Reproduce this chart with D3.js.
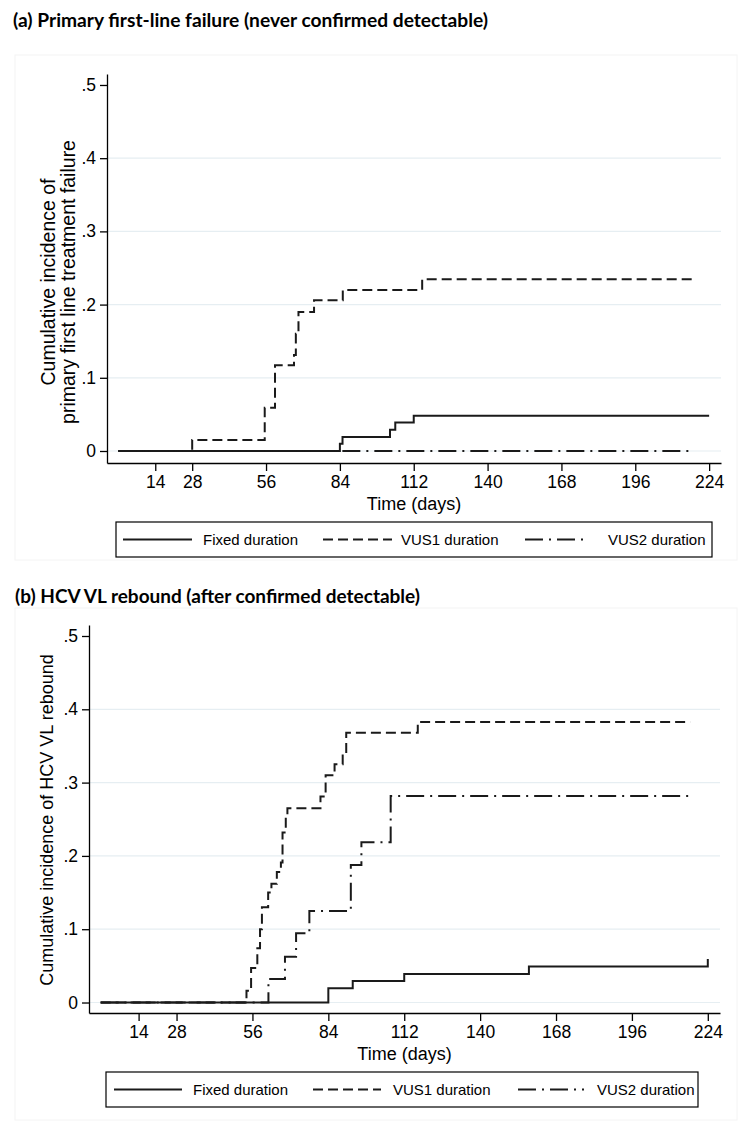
<!DOCTYPE html>
<html>
<head>
<meta charset="utf-8">
<script src="https://cdn.jsdelivr.net/npm/d3@7"></script>
<style>
  html, body { margin: 0; padding: 0; background: #ffffff; }
  svg { display: block; }
</style>
</head>
<body>
<svg id="chart" width="742" height="1136"></svg>
<script>
// ---------- DATA ----------
const xTicks = [14, 28, 56, 84, 112, 140, 168, 196, 224];
const yTicks = [0, 0.1, 0.2, 0.3, 0.4, 0.5];
const yTickLabels = ["0", ".1", ".2", ".3", ".4", ".5"];
const gridTicks = [0, 0.1, 0.2, 0.3, 0.4];
const seriesNames = ["Fixed duration", "VUS1 duration", "VUS2 duration"];

const titleA = "(a) Primary first-line failure (never confirmed detectable)";
const yLabelA = ["Cumulative incidence of", "primary first line treatment failure"];
const titleB = "(b) HCV VL rebound (after confirmed detectable)";
const yLabelB = ["Cumulative incidence of HCV VL rebound"];
const xLabel = "Time (days)";

// Panel (a) step functions (time in days, cumulative incidence)
const fixedA_time  = [0, 84, 85, 103, 105, 112, 224];
const fixedA_value = [0, 0.010, 0.019, 0.029, 0.039, 0.048, 0.048];
const vus1A_time   = [0, 28, 55.5, 59.4, 66.6, 67.3, 68.3, 74.2, 85.1, 115.2, 217.5];
const vus1A_value  = [0, 0.015, 0.059, 0.117, 0.131, 0.160, 0.190, 0.206, 0.220, 0.2345, 0.2345];
const vus2A_time   = [0, 217.5];
const vus2A_value  = [0, 0];

// Panel (b) step functions
const fixedB_time  = [0, 84, 93, 112, 158, 224];
const fixedB_value = [0, 0.0195, 0.0295, 0.039, 0.049, 0.0595];
const vus1B_time   = [0, 53.8, 55.5, 57.8, 58.8, 59.5, 61.8, 63.0, 65.0, 66.5, 67.1, 68.3, 68.9, 81.1, 83.0, 86.3, 89.3, 90.6, 117.0, 217.5];
const vus1B_value  = [0, 0.016, 0.047, 0.074, 0.100, 0.130, 0.150, 0.162, 0.178, 0.191, 0.232, 0.2525, 0.265, 0.281, 0.310, 0.325, 0.340, 0.368, 0.3827, 0.3827];
const vus2B_time   = [0, 61.9, 68.0, 72.1, 77.0, 92.3, 96.2, 107.0, 217.5];
const vus2B_value  = [0, 0.032, 0.0625, 0.0944, 0.125, 0.1876, 0.2185, 0.2817, 0.2817];

// ---------- STYLE ----------
const dashes = [null, "10,5", "18,6,2,6"];
const lineColor = "#1a1a1a";
const textFont = "'Liberation Sans', Arial, Helvetica, sans-serif";
const titleFont = "Lato, 'Open Sans', sans-serif";

const svg = d3.select("#chart");

function zip(t, v) { return t.map((d, i) => ({ t: d, v: v[i] })); }

function drawPanel(cfg) {
  const g = svg.append("g");

  // faint graph-region border
  g.append("rect")
    .attr("x", cfg.region[0]).attr("y", cfg.region[1])
    .attr("width", cfg.region[2]).attr("height", cfg.region[3])
    .attr("fill", "none").attr("stroke", "#f4f4f4").attr("stroke-width", 1);

  // title
  g.append("text")
    .attr("x", cfg.titleX).attr("y", cfg.titleY)
    .attr("font-family", titleFont).attr("font-weight", "bold")
    .attr("font-size", 18.5).attr("fill", "#000")
    .attr("textLength", cfg.titleLen).attr("lengthAdjust", "spacingAndGlyphs")
    .text(cfg.title);

  const x = d3.scaleLinear().domain([-4.3, 228.5]).range([cfg.left, cfg.right]);
  const y = d3.scaleLinear().domain([cfg.yMin, 0.515]).range([cfg.bottom, cfg.top]);

  // gridlines
  g.append("g").selectAll("line").data(gridTicks).join("line")
    .attr("x1", cfg.left).attr("x2", cfg.right)
    .attr("y1", d => y(d)).attr("y2", d => y(d))
    .attr("stroke", "#e6eef2").attr("stroke-width", 1.2);

  // y axis
  const yAxis = d3.axisLeft(y).tickValues(yTicks)
    .tickFormat((d, i) => yTickLabels[i]).tickSize(7).tickSizeOuter(0).tickPadding(cfg.yPad);
  const ya = g.append("g").attr("transform", `translate(${cfg.left},0)`).call(yAxis);
  ya.selectAll("text").attr("font-family", textFont).attr("font-size", 17.5).attr("fill", "#000");
  ya.selectAll("line, path").attr("stroke", "#000").attr("stroke-width", 1.3);

  // x axis
  const xAxis = d3.axisBottom(x).tickValues(xTicks).tickSize(8).tickSizeOuter(0).tickPadding(5);
  const xa = g.append("g").attr("transform", `translate(0,${cfg.bottom})`).call(xAxis);
  xa.selectAll("text").attr("font-family", textFont).attr("font-size", 17.5).attr("fill", "#000");
  xa.selectAll("line, path").attr("stroke", "#000").attr("stroke-width", 1.3);

  // x axis title
  g.append("text")
    .attr("x", (cfg.left + cfg.right) / 2).attr("y", cfg.bottom + 47)
    .attr("text-anchor", "middle")
    .attr("font-family", textFont).attr("font-size", 18).attr("fill", "#000")
    .text(xLabel);

  // y axis title (rotated, possibly multi-line)
  cfg.yLabel.forEach((line, i) => {
    g.append("text")
      .attr("transform", `translate(${cfg.yLabelX[i]},${cfg.yLabelCY}) rotate(-90)`)
      .attr("text-anchor", "middle").attr("dominant-baseline", "central")
      .attr("font-family", textFont).attr("font-size", cfg.yLabelSize).attr("fill", "#000")
      .text(line);
  });

  // series
  const line = d3.line().x(d => x(d.t)).y(d => y(d.v)).curve(d3.curveStepAfter);
  cfg.series.forEach((s, i) => {
    g.append("path")
      .datum(zip(s[0], s[1]))
      .attr("d", line)
      .attr("fill", "none")
      .attr("stroke", lineColor)
      .attr("stroke-width", 2)
      .attr("stroke-dasharray", dashes[i]);
  });

  // legend
  const L = cfg.legend;
  g.append("rect")
    .attr("x", L.x).attr("y", L.y).attr("width", L.w).attr("height", L.h)
    .attr("fill", "#fff").attr("stroke", "#000").attr("stroke-width", 1.2);
  seriesNames.forEach((name, i) => {
    g.append("line")
      .attr("x1", L.items[i][0]).attr("x2", L.items[i][1])
      .attr("y1", L.y + L.h / 2).attr("y2", L.y + L.h / 2)
      .attr("stroke", lineColor).attr("stroke-width", 2)
      .attr("stroke-dasharray", dashes[i]);
    g.append("text")
      .attr("x", L.items[i][2]).attr("y", L.y + L.h / 2 + 5.5)
      .attr("font-family", textFont).attr("font-size", 15).attr("fill", "#000")
      .text(name);
  });
}

drawPanel({
  region: [15, 55, 722, 505],
  title: titleA, titleX: 13, titleY: 27, titleLen: 475,
  left: 107, right: 721, top: 74, bottom: 463, yMin: -0.0164, yPad: 4,
  yLabel: yLabelA, yLabelX: [48, 68], yLabelCY: 282, yLabelSize: 19.5,
  series: [[fixedA_time, fixedA_value], [vus1A_time, vus1A_value], [vus2A_time, vus2A_value]],
  legend: { x: 116, y: 522, w: 596, h: 35,
            items: [[123, 192, 203], [323, 392, 401], [525, 589, 608]] }
});

drawPanel({
  region: [15, 608, 722, 512],
  title: titleB, titleX: 15, titleY: 603, titleLen: 405,
  left: 89, right: 720, top: 625, bottom: 1013, yMin: -0.0143, yPad: 4,
  yLabel: yLabelB, yLabelX: [47], yLabelCY: 820, yLabelSize: 18,
  series: [[fixedB_time, fixedB_value], [vus1B_time, vus1B_value], [vus2B_time, vus2B_value]],
  legend: { x: 106, y: 1072, w: 592, h: 35,
            items: [[114, 182, 193], [313, 381, 393], [518, 584, 597]] }
});
</script>
</body>
</html>
